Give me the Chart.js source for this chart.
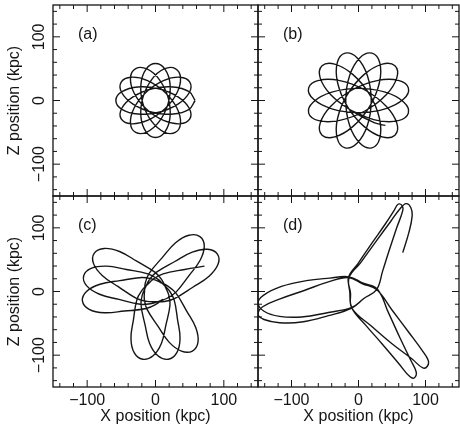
<!DOCTYPE html>
<html>
<head>
<meta charset="utf-8">
<script src="https://cdn.jsdelivr.net/npm/chart.js@4.4.1/dist/chart.umd.min.js"></script>
<style>
  html, body { margin: 0; padding: 0; background: #fff; }
  #wrap { position: relative; width: 460px; height: 430px; }
  #wrap canvas { position: absolute; left: 0; top: 0; }
</style>
</head>
<body>
<div id="wrap">
  <canvas id="pa" width="460" height="430"></canvas>
  <canvas id="pb" width="460" height="430"></canvas>
  <canvas id="pc" width="460" height="430"></canvas>
  <canvas id="pd" width="460" height="430"></canvas>
</div>
<script>
// Axis ticks (kpc) — labelled majors and unlabelled minors
const majorTicks = [-100, 0, 100];
const minorTicks = [-140, -120, -80, -60, -40, -20, 20, 40, 60, 80, 120, 140];
const panelTags = ['(a)', '(b)', '(c)', '(d)'];

// Orbit (a): points read along the track, X and Z in kpc
const orbitAX = [58.0, 49.2, 25.7, -4.9, -32.9, -49.5,
  -50.2, -35.7, -11.7, 13.4, 31.3, 36.6,
  29.0, 12.6, -5.6, -18.4, -21.3, -13.8,
  0.0, 13.8, 21.3, 18.4, 5.6, -12.6,
  -29.0, -36.6, -31.3, -13.4, 11.7, 35.7,
  50.2, 49.5, 32.9, 4.9, -25.7, -49.2,
  -58.0, -49.2, -25.7, 4.9, 32.9, 49.5,
  50.2, 35.7, 11.7, -13.4, -31.3, -36.6,
  -29.0, -12.6, 5.6, 18.4, 21.3, 13.8,
  0.0, -13.8, -21.3, -18.4, -5.6, 12.6,
  29.0, 36.6, 31.3, 13.4, -11.7, -35.7,
  -50.2, -49.5, -32.9, -4.9, 25.7, 49.2,
  58.0];
const orbitAZ = [0.0, 13.8, 21.3, 18.4, 5.6, -12.6,
  -29.0, -36.6, -31.3, -13.4, 11.7, 35.7,
  50.2, 49.5, 32.9, 4.9, -25.7, -49.2,
  -58.0, -49.2, -25.7, 4.9, 32.9, 49.5,
  50.2, 35.7, 11.7, -13.4, -31.3, -36.6,
  -29.0, -12.6, 5.6, 18.4, 21.3, 13.8,
  0.0, -13.8, -21.3, -18.4, -5.6, 12.6,
  29.0, 36.6, 31.3, 13.4, -11.7, -35.7,
  -50.2, -49.5, -32.9, -4.9, 25.7, 49.2,
  58.0, 49.2, 25.7, -4.9, -32.9, -49.5,
  -50.2, -35.7, -11.7, 13.4, 31.3, 36.6,
  29.0, 12.6, -5.6, -18.4, -21.3, -13.8,
  0.0];

// Orbit (b): starts near the central hole, ends on the free tail at lower right
const orbitBX = [-9.5, 27.9, 59.4,
  74.4, 67.3, 39.8, 0.0, -39.8, -67.3,
  -74.4, -59.4, -27.9, 9.5, 41.0, 57.2,
  54.4, 35.6, 8.6, -16.5, -31.2, -31.7,
  -19.9, -2.2, 13.1, 19.0, 13.1, -2.2,
  -19.9, -31.7, -31.2, -16.5, 8.6, 35.6,
  54.4, 57.2, 41.0, 9.5, -27.9, -59.4,
  -74.4, -67.3, -39.8, 0.0, 39.8, 67.3,
  74.4, 59.4, 27.9, -9.5, -41.0, -57.2,
  -54.4, -35.6, -8.6, 16.5, 31.2, 31.7,
  19.9, 2.2, -13.1, -19.0, -13.1, 2.2,
  19.9, 31.7, 31.2, 16.5, -8.6, -35.6,
  -54.4, -57.2, -41.0, -11.7, 23.3, 40.1];
const orbitBZ = [-16.5, -31.2, -31.7,
  -19.9, -2.2, 13.1, 19.0, 13.1, -2.2,
  -19.9, -31.7, -31.2, -16.5, 8.6, 35.6,
  54.4, 57.2, 41.0, 9.5, -27.9, -59.4,
  -74.4, -67.3, -39.8, 0.0, 39.8, 67.3,
  74.4, 59.4, 27.9, -9.5, -41.0, -57.2,
  -54.4, -35.6, -8.6, 16.5, 31.2, 31.7,
  19.9, 2.2, -13.1, -19.0, -13.1, 2.2,
  19.9, 31.7, 31.2, 16.5, -8.6, -35.6,
  -54.4, -57.2, -41.0, -9.5, 27.9, 59.4,
  74.4, 67.3, 39.8, 0.0, -39.8, -67.3,
  -74.4, -59.4, -27.9, 9.5, 41.0, 57.2,
  54.4, 35.6, 8.6, -15.0, -34.8, -39.1];

// Orbit (c)
const orbitCX = [10.5,
  1.0, -13.6, -45.6, -74.9, -97.1, -106.9, -101.0, -81.2, -52.3, -20.5, -4.5, 6.8,
  18.1, 29.9, 45.6, 59.0, 62.2, 54.0, 37.9, 19.8, 3.8, -12.7, -16.4, -16.0,
  -14.9, -9.3, 10.5, 29.4, 49.0, 65.0, 71.4, 65.5, 49.0, 30.0, 17.0, 5.5,
  -6.2, -22.3, -53.6, -81.9, -100.6, -105.2, -94.3, -71.7, -42.7, -11.2, 2.8, 11.5,
  19.9, 27.2, 32.3, 35.9, 31.2, 18.8, 3.5, -8.6, -15.2, -21.2, -19.3, -14.7,
  -9.4, 1.0, 28.3, 53.8, 76.3, 90.6, 91.5, 78.4, 54.6, 27.8, 12.3, 0.0,
  -12.6, -28.0, -54.5, -78.0, -90.8, -89.5, -75.0, -52.7, -27.5, -0.5, 9.7, 14.7,
  19.3, 21.2, 15.2, 8.6, -3.5, -18.8, -31.2, -35.9, -32.3, -27.2, -19.9, -11.7,
  -2.8, 11.2, 42.7, 71.7];
const orbitCZ = [-12.1,
  -20.0, -26.7, -30.7, -33.4, -27.9, -15.0, 0.0, 11.4, 17.0, 21.9, 19.5, 14.5,
  8.5, -2.6, -30.7, -57.0, -79.6, -93.5, -93.6, -79.5, -54.9, -27.2, -11.5, 0.8,
  13.4, 28.5, 54.0, 76.6, 88.3, 86.3, 71.4, 49.4, 25.0, -1.0, -10.6, -15.0,
  -19.0, -20.1, -12.4, -4.3, 8.8, 24.3, 36.2, 39.8, 34.6, 27.8, 19.8, 11.1,
  1.7, -12.7, -44.5, -73.7, -96.1, -106.4, -100.9, -81.6, -52.9, -21.2, -5.2, 6.3,
  17.7, 30.0, 47.1, 61.9, 66.3, 58.8, 42.7, 24.0, 6.7, -11.2, -15.8, -16.0,
  -15.5, -10.7, 7.6, 25.3, 44.2, 60.4, 67.6, 62.8, 47.6, 30.0, 17.5, 6.3,
  -5.2, -21.2, -52.9, -81.6, -100.9, -106.4, -96.1, -73.7, -44.5, -12.7, 1.7, 10.9,
  19.8, 27.8, 34.6, 39.8];

// Orbit (d)
const orbitDX = [8, -10, -45, -85, -118, -141, -150, -143, -118, -80, -45, -15, 6, 27,
  50, 75, 96, 104, 103, 96, 80, 50, 20, -10, -12, -15,
  0, 20, 40, 53, 59, 65, 66, 57, 45, 36, 27, 8, -10,
  -45, -85, -118, -141, -150, -142, -115, -78, -43, -14, 7, 28,
  45, 62, 78, 86, 84, 77, 60, 35, 10, -10, -13, -14,
  3, 27, 48, 62, 71, 78, 80, 75, 66];
const orbitDZ = [-11, -26, -38, -48, -49, -44, -36, -24, -12, 2, 15, 22, 12, 3,
  -29, -64, -94, -108, -117, -120, -106, -82, -55, -26, -2, 22,
  45, 76, 106, 127, 137, 135, 127, 100, 62, 32, 3, -11, -25,
  -33, -40, -39, -31, -18, -6, 8, 17, 21, 23, 13, 4,
  -34, -73, -108, -126, -135, -134, -113, -82, -52, -26, -1, 22,
  45, 80, 110, 130, 138, 132, 118, 92, 61];

const FONT = '"Liberation Sans", Arial, Helvetica, sans-serif';
const INK = '#151515';

function fmtTick(v) {
  return v < 0 ? '\u2212' + Math.abs(v) : String(v);
}

// Box frame with inward ticks on all four sides plus the panel tag
const framePlugin = {
  id: 'frame',
  afterDraw(chart, args, opts) {
    const { ctx, chartArea: a, scales: { x, y } } = chart;
    ctx.save();
    ctx.strokeStyle = INK;
    ctx.lineWidth = 1.3;
    ctx.strokeRect(a.left, a.top, a.right - a.left, a.bottom - a.top);
    ctx.lineWidth = 1;
    ctx.beginPath();
    const mark = (v, len) => {
      const px = x.getPixelForValue(v);
      const py = y.getPixelForValue(v);
      ctx.moveTo(px, a.bottom); ctx.lineTo(px, a.bottom - len);
      ctx.moveTo(px, a.top); ctx.lineTo(px, a.top + len);
      ctx.moveTo(a.left, py); ctx.lineTo(a.left + len, py);
      ctx.moveTo(a.right, py); ctx.lineTo(a.right - len, py);
    };
    majorTicks.forEach(v => mark(v, 7));
    minorTicks.forEach(v => mark(v, 4));
    ctx.stroke();
    ctx.fillStyle = INK;
    ctx.font = '16px ' + FONT;
    ctx.textAlign = 'left';
    ctx.textBaseline = 'middle';
    ctx.fillText(opts.tag, a.left + 25, a.top + 30);
    ctx.restore();
  }
};

function makePanel(id, tag, xs, zs, box, showX, showY) {
  const pts = xs.map((v, i) => ({ x: v, y: zs[i] }));
  return new Chart(document.getElementById(id), {
    type: 'scatter',
    data: {
      datasets: [{
        data: pts,
        showLine: true,
        borderColor: INK,
        borderWidth: 1.4,
        borderJoinStyle: 'round',
        pointRadius: 0,
        tension: 0.4,
        fill: false
      }]
    },
    options: {
      responsive: false,
      animation: false,
      devicePixelRatio: 1,
      events: [],
      layout: {
        padding: {
          left: showY ? 0 : box[0],
          top: box[1],
          right: 460 - box[2],
          bottom: showX ? 0 : 430 - box[3]
        }
      },
      plugins: {
        legend: { display: false },
        tooltip: { enabled: false },
        frame: { tag: tag }
      },
      scales: {
        x: {
          type: 'linear', min: -150, max: 150, position: 'bottom',
          display: showX,
          grid: { display: false, drawTicks: false },
          border: { display: false },
          afterBuildTicks: s => { s.ticks = majorTicks.map(v => ({ value: v })); },
          ticks: {
            color: INK, font: { family: FONT, size: 16 }, padding: 4,
            minRotation: 0, maxRotation: 0, autoSkip: false,
            callback: v => fmtTick(v)
          },
          title: {
            display: true, text: 'X position (kpc)', color: INK,
            font: { family: FONT, size: 16 }, padding: { top: 0, bottom: 4 }
          },
          afterFit: s => {
            if (showX) s.height = 430 - box[3];
            s.paddingLeft = 0; s.paddingRight = 0;
          }
        },
        y: {
          type: 'linear', min: -150, max: 150, position: 'left',
          display: showY,
          grid: { display: false, drawTicks: false },
          border: { display: false },
          afterBuildTicks: s => { s.ticks = majorTicks.map(v => ({ value: v })); },
          ticks: {
            color: INK, font: { family: FONT, size: 16 }, padding: -5,
            minRotation: 90, maxRotation: 90, crossAlign: 'center', autoSkip: false,
            callback: v => fmtTick(v)
          },
          title: {
            display: true, text: 'Z position (kpc)', color: INK,
            font: { family: FONT, size: 16 }, padding: { top: 5, bottom: 0 }
          },
          afterFit: s => {
            if (showY) s.width = box[0];
            s.paddingTop = 0; s.paddingBottom = 0;
          }
        }
      }
    },
    plugins: [framePlugin]
  });
}

makePanel('pa', panelTags[0], orbitAX, orbitAZ, [53, 5, 258, 196], false, true);
makePanel('pb', panelTags[1], orbitBX, orbitBZ, [258, 5, 459, 196], false, false);
makePanel('pc', panelTags[2], orbitCX, orbitCZ, [53, 196, 258, 387], true, true);
makePanel('pd', panelTags[3], orbitDX, orbitDZ, [258, 196, 459, 387], true, false);
</script>
</body>
</html>
